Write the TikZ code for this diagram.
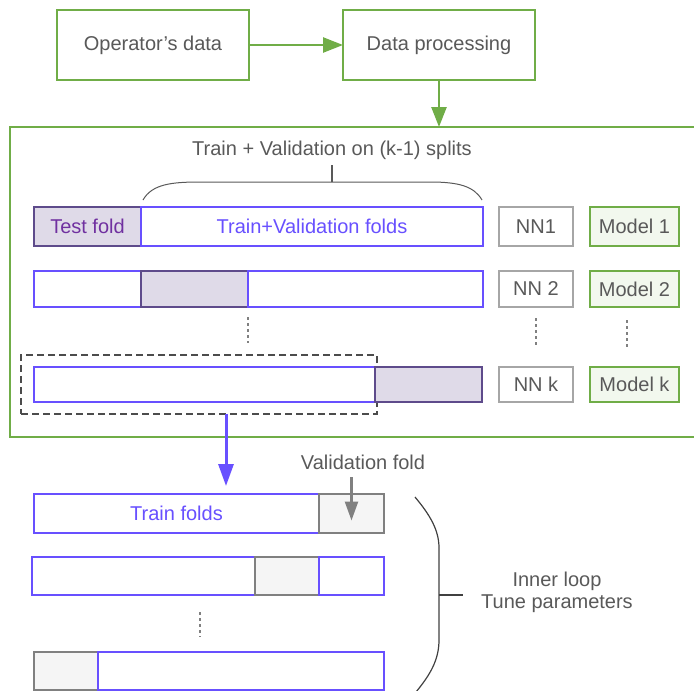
\documentclass[tikz,border=0pt]{standalone}
\usepackage{fontspec}
\setmainfont{Liberation Sans}
\usepackage{tikz}
\usetikzlibrary{arrows.meta, calc, positioning}

\definecolor{cvgreen}{HTML}{70AD47}
\definecolor{cvgreenbg}{HTML}{F2F8EE}
\definecolor{foldblue}{RGB}{104,80,255}
\definecolor{testbg}{HTML}{DFDAE8}
\definecolor{testline}{HTML}{5E4B8B}
\definecolor{testtext}{HTML}{7030A0}
\definecolor{txtgrey}{HTML}{595959}
\definecolor{nnline}{HTML}{A6A6A6}
\definecolor{valline}{HTML}{808080}
\definecolor{valbg}{HTML}{F5F5F5}

\tikzset{
  every node/.style={font=\fontsize{20}{22}\selectfont, text=txtgrey, inner sep=0pt, outer sep=0pt},
  stepbox/.style={draw=cvgreen, line width=2pt, fill=white, anchor=north west},
  trfold/.style={draw=foldblue, line width=2pt, fill=white, anchor=north west, text=foldblue},
  testfold/.style={draw=testline, line width=2pt, fill=testbg, anchor=north west, text=testtext},
  valfold/.style={draw=valline, line width=2pt, fill=valbg, anchor=north west},
  nnbox/.style={draw=nnline, line width=2pt, fill=white, anchor=north west, minimum width=74pt},
  modelbox/.style={draw=cvgreen, line width=2pt, fill=cvgreenbg, anchor=north west, minimum width=89pt},
  garrow/.style={draw=cvgreen, line width=2.5pt, -{Triangle[length=20pt,width=15pt]}},
  dots/.style={draw=valline, line width=1.3pt, dash pattern=on 3pt off 3pt},
}

\begin{document}
\begin{tikzpicture}[x=1pt,y=-1pt]
	\useasboundingbox (0,0) rectangle (694,691);
	\clip (0,0) rectangle (694,691);

	% data preparation
	\node[stepbox, minimum width=192pt, minimum height=70pt] (opd) at (57,10) {Operator’s data};
	\node[stepbox, minimum width=192pt, minimum height=70pt] (dproc) at (343,10) {Data processing};

	% outer loop frame
	\node[draw=cvgreen, line width=2pt, anchor=north west, minimum width=700pt, minimum height=310pt] (cv) at (10,127) {};
	\draw[garrow] (opd) -- (dproc);
	\draw[garrow] (dproc) -- (dproc |- cv.north);

	\node (splitlab) at (332,150) {Train + Validation on (k-1) splits};
	\draw[draw=txtgrey, line width=1pt] (143,200) .. controls (152,184) and (172,182) .. (200,182)
	  -- (430,182) .. controls (458,182) and (474,186) .. (482,200);
	\draw[draw=txtgrey, line width=1.2pt] (332,165) -- (332,182);

	% split 1
	\node[testfold, minimum width=107pt, minimum height=39pt] (test1) at (34,207) {Test fold};
	\node[trfold, minimum width=342pt, minimum height=39pt] (tv1) at (141,207) {Train+Validation folds};
	\node[nnbox, minimum height=39pt] (nn1) at (499,207) {NN1};
	\node[modelbox, minimum height=39pt] (m1) at (590,207) {Model 1};

	% split 2
	\node[trfold, minimum width=107pt, minimum height=36pt] (tv2a) at (34,271) {};
	\node[testfold, minimum width=107pt, minimum height=36pt] (test2) at (141,271) {};
	\node[trfold, minimum width=235pt, minimum height=36pt] (tv2b) at (248,271) {};
	\node[nnbox, minimum height=36pt] (nn2) at (499,271) {NN 2};
	\node[modelbox, minimum height=36pt] (m2) at (590,271) {Model 2};

	\draw[dots] (248,317) -- (248,343);
	\draw[dots] (536,318) -- (536,345);
	\draw[dots] (627,320) -- (627,347);

	% split k
	\node[draw=black!70, line width=1.3pt, dash pattern=on 7pt off 4pt, anchor=north west, minimum width=356pt, minimum height=59pt] (sel) at (21,355) {};
	\node[trfold, minimum width=341pt, minimum height=35pt] (tvk) at (34,367) {};
	\node[testfold, minimum width=107pt, minimum height=35pt] (testk) at (375,367) {};
	\node[nnbox, minimum height=35pt] (nnk) at (499,367) {NN k};
	\node[modelbox, minimum height=35pt] (mk) at (590,367) {Model k};

	% inner loop
	\node[trfold, minimum width=285pt, minimum height=39pt] (trA) at (34,494) {Train folds};
	\node[valfold, minimum width=65pt, minimum height=39pt] (valA) at (319,494) {};
	\node (vlab) at (363,462) {Validation fold};

	\node[trfold, minimum width=223pt, minimum height=38pt] (trB) at (32,557) {};
	\node[valfold, minimum width=64pt, minimum height=38pt] (valB) at (255,557) {};
	\node[trfold, minimum width=65pt, minimum height=38pt] (trB2) at (319,557) {};

	\draw[dots] (200,612) -- (200,637);

	\node[valfold, minimum width=64pt, minimum height=38pt] (valC) at (34,652) {};
	\node[trfold, minimum width=286pt, minimum height=38pt] (trC) at (98,652) {};

	\coordinate (cut) at (226,0);
	\draw[draw=foldblue, line width=3pt, -{Triangle[length=22pt,width=15pt]}, shorten >=8pt]
	  (sel.south -| cut) -- (trA.north -| cut);
	\draw[draw=valline, line width=2.5pt, -{Triangle[length=19pt,width=13pt]}]
	  (vlab.south -| valA.north) ++(0,8) -- ([yshift=-7pt]valA.center);

	\draw[draw=black!75, line width=1.2pt] (415,497) .. controls (430,515) and (439,530) .. (439,548)
	  -- (439,640) .. controls (439,660) and (430,675) .. (416,692);
	\draw[draw=black!75, line width=1.5pt] (439,595) -- (463,595);
	\node[align=center] (inner) at (557,592) {Inner loop\\Tune parameters};
\end{tikzpicture}
\end{document}
